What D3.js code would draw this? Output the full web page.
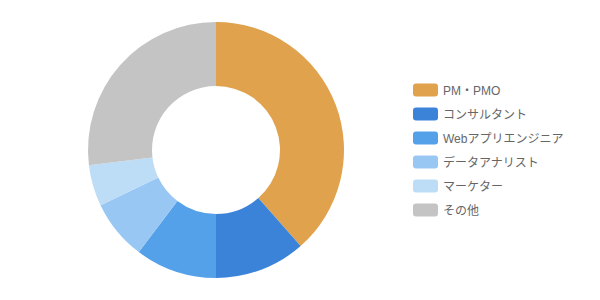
<!DOCTYPE html>
<html>
<head>
<meta charset="utf-8">
<script src="https://cdn.jsdelivr.net/npm/d3@7"></script>
<style>
  body { margin: 0; background: #fff; }
  svg text { font-family: "Liberation Sans", "Noto Sans CJK JP", sans-serif; }
</style>
</head>
<body>
<svg id="chart" width="600" height="300"></svg>
<script>
const categories = ["PM・PMO", "コンサルタント", "Webアプリエンジニア", "データアナリスト", "マーケター", "その他"]
const shares = [38.5, 11.5, 10.3, 7.6, 5.2, 26.9]
const colors = ["#E0A24C", "#3B83D9", "#54A1EA", "#99C7F3", "#BDDDF7", "#C4C4C4"]

const svg = d3.select("#chart")

const cx = 216, cy = 150
const outerR = 128, innerR = 64

const pie = d3.pie().sort(null).value(d => d)
const arc = d3.arc().innerRadius(innerR).outerRadius(outerR)

const color = d3.scaleOrdinal().domain(categories).range(colors)

svg.append("g")
  .attr("transform", `translate(${cx},${cy})`)
  .selectAll("path")
  .data(pie(shares))
  .join("path")
  .attr("d", arc)
  .attr("fill", (d, i) => color(categories[i]))

//legend on the right
const row = d3.scaleBand().domain(categories).range([78, 222])

const legend = svg.append("g")
  .selectAll("g")
  .data(categories)
  .join("g")
  .attr("transform", d => `translate(413,${row(d) + row.bandwidth() / 2})`)

legend.append("rect")
  .attr("x", 0)
  .attr("y", -6.5)
  .attr("width", 25)
  .attr("height", 13)
  .attr("rx", 3)
  .attr("fill", d => color(d))

legend.append("text")
  .attr("x", 30)
  .attr("dy", "0.38em")
  .attr("font-size", 12)
  .attr("fill", "#666")
  .text(d => d)
</script>
</body>
</html>
